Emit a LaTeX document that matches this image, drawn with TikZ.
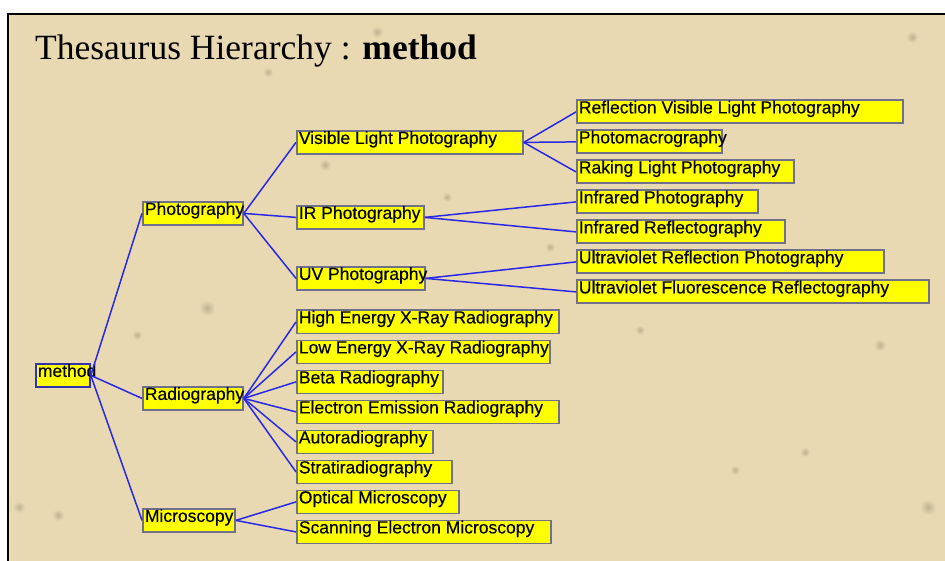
\documentclass[tikz,border=0pt]{standalone}
\usepackage{fontspec}
\setmainfont{Liberation Serif}
\newfontfamily\termfont[FakeBold=0.35]{Liberation Sans}
\definecolor{parchment}{RGB}{233,217,178}
\definecolor{stain}{RGB}{190,178,146}
\definecolor{boxedge}{RGB}{112,112,140}
\definecolor{rootedge}{RGB}{50,50,170}
\definecolor{linkblue}{RGB}{40,40,230}
\definecolor{termfill}{RGB}{255,255,0}
% fixed-width label: left aligned, may run past the box like the original
\newcommand\termtext[2]{\makebox[#1pt][l]{\rule[-10pt]{0pt}{23pt}\hspace{2pt}#2}}
\begin{document}
\begin{tikzpicture}[x=1pt,y=-1pt,
  term/.style={draw=boxedge, fill=termfill, line width=1.8pt, inner sep=0pt,
    anchor=north west, font=\termfont\fontsize{17.5}{21}\selectfont},
  rootterm/.style={term, draw=rootedge},
  link/.style={draw=linkblue, line width=1.5pt},
  frameline/.style={draw=black, line width=2pt},
  spot/.style={inner color=stain, outer color=parchment}]
\useasboundingbox (0,0) rectangle (945,561);
% page background and frame
\fill[white] (0,0) rectangle (945,561);
\fill[parchment] (8,14) rectangle (945,561);
% soft stains in the paper texture
\foreach \sx/\sy/\sr in {207/308/8, 137/335/5, 325/165/6, 447/197/5, 550/247/5,
  377/32/6, 912/37/6, 19/507/6, 58/515/6, 928/507/8, 268/72/5, 805/452/5,
  880/345/6, 640/330/5, 735/470/5}
  \shade[spot] (\sx,\sy) circle (\sr);
\draw[frameline] (8,561) -- (8,14) -- (945,14);

% title
\node[anchor=base west, inner sep=0pt, font=\fontsize{35.5}{40}\selectfont]
  (title) at (35,60) {Thesaurus Hierarchy : \textbf{method}};

% root and first level
\node[rootterm] (method) at (35,363) {\termtext{54}{method}};
\node[term] (photo) at (142,201) {\termtext{100}{Photography}};
\node[term] (radio) at (142,386) {\termtext{100}{Radiography}};
\node[term] (micro) at (142,508) {\termtext{92}{Microscopy}};

% second level under Photography
\node[term] (vlp) at (296,130) {\termtext{226}{Visible Light Photography}};
\node[term] (irp) at (296,205) {\termtext{127}{IR Photography}};
\node[term] (uvp) at (296,266) {\termtext{128}{UV Photography}};

% leaves of Visible Light Photography
\node[term] (rvlp)  at (576,99.5)  {\termtext{326}{Reflection Visible Light Photography}};
\node[term] (pmac)  at (576,129.5) {\termtext{145}{Photomacrography}};
\node[term] (rlp)   at (576,159.5) {\termtext{217}{Raking Light Photography}};
% leaves of IR Photography
\node[term] (infp)  at (576,189.5) {\termtext{181}{Infrared Photography}};
\node[term] (infr)  at (576,219.5) {\termtext{208}{Infrared Reflectography}};
% leaves of UV Photography
\node[term] (uvrp)  at (576,249.5) {\termtext{307}{Ultraviolet Reflection Photography}};
\node[term] (uvfr)  at (576,279.5) {\termtext{352}{Ultraviolet Fluorescence Reflectography}};

% leaves of Radiography
\node[term] (hexr)  at (296,309.5) {\termtext{262}{High Energy X-Ray Radiography}};
\node[term] (lexr)  at (296,339.5) {\termtext{253}{Low Energy X-Ray Radiography}};
\node[term] (beta)  at (296,369.5) {\termtext{146}{Beta Radiography}};
\node[term] (eer)   at (296,399.5) {\termtext{262}{Electron Emission Radiography}};
\node[term] (auto)  at (296,429.5) {\termtext{136}{Autoradiography}};
\node[term] (strat) at (296,459.5) {\termtext{155}{Stratiradiography}};

% leaves of Microscopy
\node[term] (optm)  at (296,489.5) {\termtext{162}{Optical Microscopy}};
\node[term] (sem)   at (296,519.5) {\termtext{254}{Scanning Electron Microscopy}};

% connectors
\foreach \kid in {photo,radio,micro} \draw[link] (method.east) -- (\kid.west);
\foreach \kid in {vlp,irp,uvp} \draw[link] (photo.east) -- (\kid.west);
\foreach \kid in {rvlp,pmac,rlp} \draw[link] (vlp.east) -- (\kid.west);
\foreach \kid in {infp,infr} \draw[link] (irp.east) -- (\kid.west);
\foreach \kid in {uvrp,uvfr} \draw[link] (uvp.east) -- (\kid.west);
\foreach \kid in {hexr,lexr,beta,eer,auto,strat} \draw[link] (radio.east) -- (\kid.west);
\foreach \kid in {optm,sem} \draw[link] (micro.east) -- (\kid.west);
\end{tikzpicture}
\end{document}
